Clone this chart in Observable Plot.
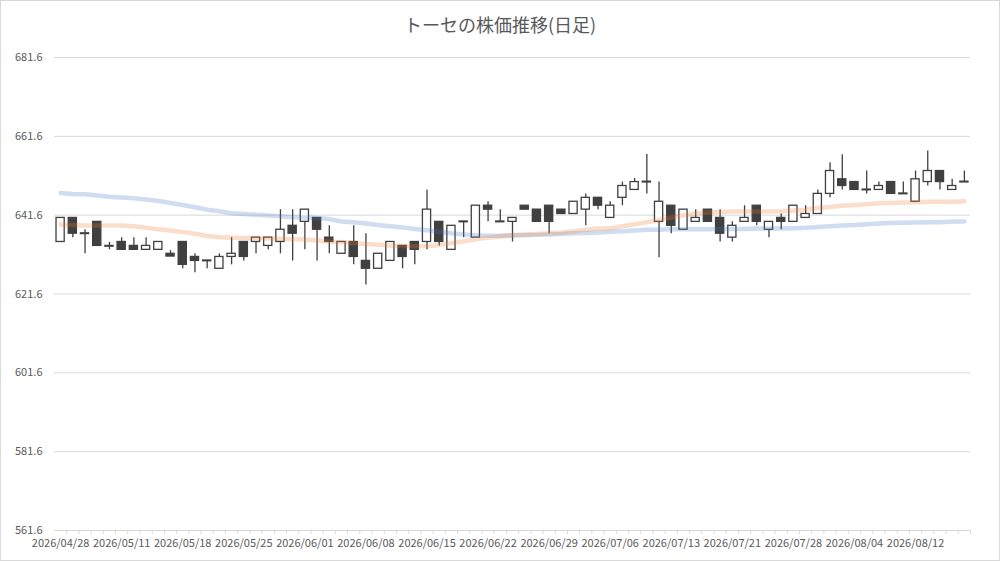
<!DOCTYPE html>
<html><head><meta charset="utf-8">
<script src="https://cdn.jsdelivr.net/npm/d3@7"></script>
<script src="https://cdn.jsdelivr.net/npm/@observablehq/plot@0.6"></script>
<style>
body{margin:0;background:#fff;}
#wrap{position:relative;width:1000px;height:561px;overflow:hidden;font-family:"Noto Sans CJK JP","Noto Sans",sans-serif;background:#fff;}
#frame{position:absolute;left:0;top:0;width:998px;height:559px;border:1px solid #d9d9d9;pointer-events:none;}
#title{position:absolute;top:11px;left:0;width:1000px;text-align:center;font-size:18px;color:#595959;line-height:26px;}
#chart{position:absolute;top:40px;left:0;}
</style></head><body>
<div id="wrap"><div id="title">トーセの株価推移(日足)</div><div id="chart"></div><div id="frame"></div></div>
<script>
const dates = ["2026/04/28","2026/04/30","2026/05/01","2026/05/07","2026/05/08",
"2026/05/11","2026/05/12","2026/05/13","2026/05/14","2026/05/15",
"2026/05/18","2026/05/19","2026/05/20","2026/05/21","2026/05/22",
"2026/05/25","2026/05/26","2026/05/27","2026/05/28","2026/05/29",
"2026/06/01","2026/06/02","2026/06/03","2026/06/04","2026/06/05",
"2026/06/08","2026/06/09","2026/06/10","2026/06/11","2026/06/12",
"2026/06/15","2026/06/16","2026/06/17","2026/06/18","2026/06/19",
"2026/06/22","2026/06/23","2026/06/24","2026/06/25","2026/06/26",
"2026/06/29","2026/06/30","2026/07/01","2026/07/02","2026/07/03",
"2026/07/06","2026/07/07","2026/07/08","2026/07/09","2026/07/10",
"2026/07/13","2026/07/14","2026/07/15","2026/07/16","2026/07/17",
"2026/07/21","2026/07/22","2026/07/23","2026/07/24","2026/07/27",
"2026/07/28","2026/07/29","2026/07/30","2026/07/31","2026/08/03",
"2026/08/04","2026/08/05","2026/08/06","2026/08/07","2026/08/10",
"2026/08/12","2026/08/13","2026/08/14","2026/08/17","2026/08/18"];

const open = [634.8,640.9,636.8,639.9,633.6, 634.8,633.8,632.8,632.8,631.8,
634.8,631.0,630.1,628.0,631.0, 634.8,634.8,633.8,634.8,638.9,
639.9,640.9,635.9,631.8,634.8, 630.0,628.0,630.0,633.8,634.8,
634.8,639.9,632.8,639.8,635.9, 644.0,640.0,639.9,644.0,643.0,
644.0,643.0,641.9,643.0,646.0, 640.9,646.0,648.0,650.1,639.9,
644.0,637.9,639.9,643.0,640.9, 635.9,639.9,644.0,637.9,640.9,
639.9,640.9,641.9,647.0,650.7, 650.0,648.1,648.0,650.0,647.1,
645.0,650.0,652.8,648.0,650.1];
const high = [640.9,640.9,637.9,639.9,634.7, 635.9,635.9,635.9,634.8,632.6,
634.8,631.8,630.1,631.8,635.9, 634.8,635.9,635.9,643.0,643.0,
643.0,640.9,638.9,634.8,638.9, 636.9,631.8,634.8,633.8,634.8,
648.0,639.9,638.9,640.0,644.0, 645.0,643.0,640.9,644.0,643.0,
644.0,643.0,645.0,647.0,646.0, 645.0,650.0,650.9,657.0,650.0,
644.0,643.0,643.0,643.0,643.0, 639.9,644.0,644.0,639.9,641.9,
644.0,644.0,648.0,654.9,656.9, 650.0,652.8,650.0,650.0,650.0,
652.8,657.9,652.8,650.7,652.8];
const low = [634.8,635.9,631.8,633.8,632.8, 632.8,632.8,632.8,632.8,631.1,
628.0,627.0,628.0,628.0,629.0, 630.0,631.8,632.8,631.8,630.0,
632.8,630.0,631.8,631.8,629.0, 623.9,628.0,630.0,628.0,629.0,
632.8,633.8,632.8,635.9,635.9, 639.9,639.8,634.8,643.0,639.9,
636.9,641.9,641.9,638.9,643.0, 640.9,644.0,648.0,647.0,630.8,
636.9,637.9,639.9,639.9,634.8, 634.8,639.9,638.9,635.9,637.9,
639.9,640.9,641.9,646.0,648.0, 648.0,647.0,648.0,647.0,646.9,
645.0,649.0,648.0,648.0,649.9];
const close = [640.9,636.9,637.0,633.8,633.8, 632.8,632.8,633.8,634.8,631.1,
629.0,630.0,629.9,631.0,631.8, 631.0,635.9,635.9,637.9,636.9,
643.0,637.9,634.8,634.8,631.0, 628.0,631.8,634.8,631.0,632.8,
643.0,634.8,638.9,640.0,644.0, 643.0,639.8,640.9,643.0,639.9,
639.9,641.9,645.0,646.0,644.0, 644.0,649.0,650.0,649.9,645.0,
638.9,643.0,640.9,639.9,636.9, 638.9,640.9,639.9,639.9,639.9,
644.0,641.9,647.0,652.8,649.0, 648.0,647.9,649.0,647.0,646.9,
650.7,652.8,650.0,649.0,649.9];
// moving averages (orange = short, blue = long)
const maShort = [639.2,639.1,639.0,639.0,639.0, 639.0,638.8,638.4,638.0,637.7,
637.3,636.9,636.3,636.0,635.9, 635.8,635.8,635.7,635.6,635.5,
635.4,635.2,634.9,634.7,634.5, 634.3,634.1,633.9,633.8,633.7,
633.7,634.0,634.5,635.0,635.5, 635.9,636.2,636.5,636.7,636.8,
637.0,637.2,637.5,637.9,638.2, 638.3,638.8,639.3,639.8,640.3,
641.0,641.6,642.0,642.3,642.4, 642.5,642.5,642.5,642.5,642.6,
642.8,643.0,643.4,643.7,644.0, 644.2,644.4,644.6,644.7,644.8,
644.9,645.0,645.0,645.0,645.1];
const maLong = [647.2,647.0,646.9,646.6,646.3, 646.1,645.9,645.6,645.2,644.7,
644.2,643.6,643.0,642.6,642.1, 641.9,641.7,641.5,641.3,641.1,
641.0,640.9,640.6,640.0,639.8, 639.5,639.1,638.8,638.5,638.1,
637.8,637.4,637.0,636.7,636.5, 636.4,636.4,636.5,636.5,636.6,
636.7,636.8,637.0,637.1,637.2, 637.4,637.5,637.7,637.9,637.9,
638.0,638.0,638.0,638.05,638.1, 638.1,638.1,638.2,638.2,638.2,
638.3,638.4,638.6,638.8,639.0, 639.1,639.3,639.5,639.6,639.7,
639.75,639.8,639.8,640.0,640.0];
const xTickLabels = ["2026/04/28","2026/05/11","2026/05/18","2026/05/25","2026/06/01",
"2026/06/08","2026/06/15","2026/06/22","2026/06/29","2026/07/06",
"2026/07/13","2026/07/21","2026/07/28","2026/08/04","2026/08/12"];
const yTicks = [561.6,581.6,601.6,621.6,641.6,661.6,681.6];

const rows = dates.map((d,i)=>({date:d, open:open[i], high:high[i], low:low[i], close:close[i],
  maS:maShort[i], maL:maLong[i], up: close[i] >= open[i]}));

const W = 1000, H = 521, ML = 54, MR = 30, MT = 17, MB = 31;
const step = (W - ML - MR) / dates.length;
const ink = "#404040";

const chart = Plot.plot({
  width: W, height: H, marginLeft: ML, marginRight: MR, marginTop: MT, marginBottom: MB,
  style: {fontFamily: '"Noto Sans CJK JP","Noto Sans",sans-serif', fontSize: "11px", color: "#595959", background: "white"},
  x: {type: "band", domain: dates, paddingInner: 0.33, paddingOuter: 0.165, round: false, label: null},
  y: {domain: [561.6, 681.6], label: null},
  marks: [
    Plot.gridY(yTicks, {stroke: "#d9d9d9", strokeOpacity: 1}),
    Plot.axisY(yTicks, {tickSize: 0, tickPadding: 12, tickFormat: d => d.toFixed(1), fill: "#595959", label: null}),
    Plot.ruleY([561.6], {stroke: "#d9d9d9"}),
    Plot.axisX(dates, {tickSize: 4, fill: "none", stroke: "#d9d9d9", dx: step / 2, label: null}),
    Plot.axisX(xTickLabels, {tickSize: 0, tickPadding: 9, fill: "#595959", fontSize: 11, label: null}),
    Plot.ruleX(rows, {x: "date", y1: "low", y2: "high", stroke: ink, strokeWidth: 1.3}),
    Plot.barY(rows, {filter: d => d.up, x: "date", y1: "open", y2: "close", fill: "white", stroke: ink, strokeWidth: 1.3}),
    Plot.barY(rows, {filter: d => !d.up, x: "date", y1: "open", y2: "close", fill: ink, stroke: ink, strokeWidth: 1.3}),
    Plot.lineY(rows, {x: "date", y: "maL", stroke: "#4472C4", strokeOpacity: 0.25, strokeWidth: 4.5}),
    Plot.lineY(rows, {x: "date", y: "maS", stroke: "#ED7D31", strokeOpacity: 0.25, strokeWidth: 4.5})
  ]
});
document.getElementById("chart").appendChild(chart);
</script>
</body></html>
